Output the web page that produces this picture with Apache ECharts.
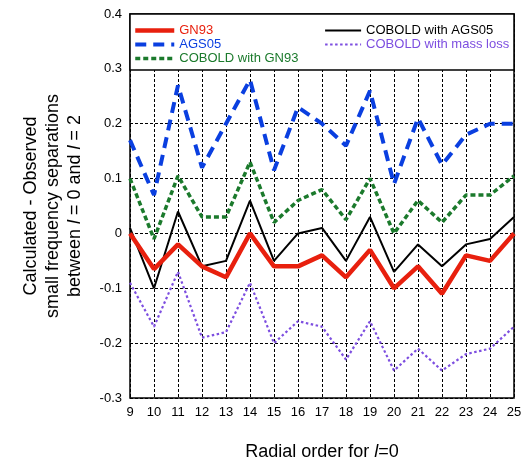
<!DOCTYPE html>
<html>
<head>
<meta charset="utf-8">
<script src="https://cdn.jsdelivr.net/npm/echarts@6/dist/echarts.min.js"></script>
<style>
html,body{margin:0;padding:0;background:#fff;}
#chart{width:531px;height:466px;}
</style>
</head>
<body>
<div id="chart"></div>
<script>
const radialOrder = [9,10,11,12,13,14,15,16,17,18,19,20,21,22,23,24,25];
const gn93 = [0.0,-0.065,-0.02,-0.06,-0.08,0.0,-0.06,-0.06,-0.04,-0.08,-0.03,-0.1,-0.06,-0.11,-0.04,-0.05,0.0];
const ags05 = [0.17,0.07,0.27,0.12,0.2,0.28,0.115,0.23,0.2,0.16,0.26,0.09,0.21,0.125,0.18,0.2,0.2];
const coboldGn93 = [0.1,-0.01,0.105,0.03,0.03,0.13,0.02,0.06,0.08,0.025,0.1,0.0,0.06,0.02,0.07,0.07,0.105];
const coboldAgs05 = [0.01,-0.1,0.04,-0.06,-0.05,0.06,-0.05,0.0,0.01,-0.05,0.03,-0.07,-0.02,-0.06,-0.02,-0.01,0.03];
const coboldMassLoss = [-0.09,-0.17,-0.07,-0.19,-0.18,-0.09,-0.2,-0.16,-0.17,-0.23,-0.16,-0.25,-0.21,-0.25,-0.22,-0.21,-0.17];
const yMin = -0.3, yMax = 0.4, yStep = 0.1;

const C = {red:'#e8200e', blue:'#0a3fe0', green:'#1b7a2c', black:'#000000', purple:'#7d4ee0'};
const pairs = (ys) => radialOrder.map((x,i)=>[x, ys[i]]);
const font = 'Liberation Sans, Arial, sans-serif';

const chart = echarts.init(document.getElementById('chart'));
const gridLine = {show:true, lineStyle:{color:'#000', width:1, type:[3,2]}};
chart.setOption({
  animation:false,
  backgroundColor:'#fff',
  textStyle:{fontFamily:font},
  grid:{left:130, right:17, top:14, bottom:68, show:true, borderColor:'#000', borderWidth:1.5, backgroundColor:'transparent', containLabel:false},
  xAxis:{
    type:'value', min:9, max:25, interval:1,
    axisLine:{show:false}, axisTick:{show:false},
    splitLine:gridLine,
    axisLabel:{color:'#000', fontSize:13, margin:8, fontFamily:font, showMinLabel:true, showMaxLabel:true},
    name:'Radial order for {i|l}=0', nameLocation:'middle', nameGap:45,
    nameTextStyle:{color:'#000', fontSize:18, fontFamily:font, rich:{i:{fontStyle:'italic', fontSize:18, fontFamily:font, color:'#000'}}}
  },
  yAxis:{
    type:'value', min:yMin, max:yMax, interval:yStep,
    axisLine:{show:false}, axisTick:{show:false},
    splitLine:gridLine,
    axisLabel:{color:'#000', fontSize:13, margin:8, fontFamily:font, formatter:(v)=>String(+v.toFixed(1))},
    name:'Calculated - Observed\nsmall frequency separations\nbetween {i|l} = 0 and {i|l} = 2', nameLocation:'middle', nameGap:44,
    nameTextStyle:{color:'#000', fontSize:18, lineHeight:22, align:'center', fontFamily:font, rich:{i:{fontStyle:'italic', fontSize:18, lineHeight:22, fontFamily:font, color:'#000'}}}
  },
  graphic:[{type:'rect', z:3, shape:{x:130, y:14, width:384, height:56}, style:{fill:'#fff', stroke:'#000', lineWidth:1.5}}],
  legend:[
    {left:128, top:19, orient:'vertical', itemGap:1, itemWidth:39, itemHeight:14, z:5,
     itemStyle:{opacity:0}, lineStyle:{width:'inherit'},
     textStyle:{fontSize:13, fontFamily:font},
     data:[{name:'GN93', textStyle:{color:C.red}},{name:'AGS05', textStyle:{color:C.blue}},{name:'COBOLD with GN93', textStyle:{color:C.green}}]},
    {left:319, top:19, orient:'vertical', itemGap:1, itemWidth:36, itemHeight:14, z:5,
     itemStyle:{opacity:0}, lineStyle:{width:'inherit'},
     textStyle:{fontSize:13, fontFamily:font},
     data:[{name:'COBOLD with AGS05', textStyle:{color:C.black}},{name:'COBOLD with mass loss', textStyle:{color:C.purple}}]}
  ],
  series:[
    {name:'COBOLD with mass loss', type:'line', data:pairs(coboldMassLoss), symbol:'none', color:C.purple, lineStyle:{color:C.purple, width:2.2, type:[2.5,2.5]}},
    {name:'COBOLD with GN93', type:'line', data:pairs(coboldGn93), symbol:'none', color:C.green, lineStyle:{color:C.green, width:3.5, type:[5,3]}},
    {name:'AGS05', type:'line', data:pairs(ags05), symbol:'none', color:C.blue, lineStyle:{color:C.blue, width:4, type:[11,7]}},
    {name:'COBOLD with AGS05', type:'line', data:pairs(coboldAgs05), symbol:'none', color:C.black, lineStyle:{color:C.black, width:2}},
    {name:'GN93', type:'line', data:pairs(gn93), symbol:'none', color:C.red, lineStyle:{color:C.red, width:4.5}}
  ]
});
</script>
</body>
</html>
